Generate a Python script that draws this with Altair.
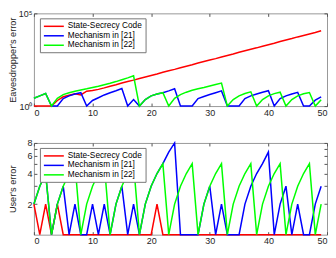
import altair as alt
import pandas as pd

x_steps = list(range(50))
series_names = ["State-Secrecy Code", "Mechanism in [21]", "Mechanism in [22]"]
series_colors = ["#ff0000", "#0000ff", "#00ff00"]

# Eavesdropper's error (top panel, log scale)
eve_red = [1, 1, 1, 1, 2.0, 3.16, 3.8, 4.57, 3.98, 6.31, 6.92, 7.94, 9.55, 11.7,
           14.1, 17.4, 20.9, 25.1, 30.9, 37.2, 44.7, 53.7, 66.1, 79.4, 95.5, 117,
           141, 170, 209, 251, 302, 363, 447, 537, 646, 794, 955, 1148, 1380, 1698,
           2042, 2455, 3020, 3631, 4365, 5370, 6457, 7762, 9333, 11482]
eve_blue = [2.63, 3.55, 4.79, 1, 1, 2.51, 3.55, 4.47, 5.25, 1, 2.0, 2.82, 3.98, 5.25,
            6.76, 8.91, 1, 2.24, 1, 2.24, 3.55, 4.47, 5.25, 6.61, 8.51, 1, 1, 1,
            2.51, 3.31, 4.17, 5.25, 6.61, 1, 1, 1, 2.51, 3.55, 4.47, 5.62, 6.76, 1,
            2.51, 3.55, 4.47, 5.5, 1, 1, 2.09, 3.16]
eve_green = [2.63, 3.55, 4.79, 1, 2.63, 4.17, 5.25, 6.31, 7.41, 8.51, 10, 11.7, 14.1,
             17.0, 20.9, 26.3, 33.1, 42.7, 1, 2.24, 3.55, 4.47, 5.25, 1, 2.63, 4.17,
             5.62, 7.08, 8.51, 10, 12.0, 14.5, 17.4, 1, 2.24, 3.55, 4.79, 5.89, 1,
             2.24, 3.55, 4.68, 5.62, 1, 2.24, 3.55, 4.57, 5.37, 1, 2.19]

# User's error (bottom panel)
user_red = [2, 1, 2, 1, 2, 1, 1, 1, 1, 1, 1, 1, 1, 1, 1, 1, 1, 1, 1, 1, 1, 2, 1, 1, 1,
            1, 1, 1, 1, 1, 1, 1, 1, 1, 1, 1, 1, 1, 1, 1, 1, 1, 1, 1, 1, 1, 1, 1, 1, 1]
user_blue = [2, 3, 4, 1, 2, 3, 1, 2, 1, 1, 2, 1, 2, 1, 2, 3, 1, 2, 1, 2, 3, 4, 5, 6.5,
             8, 1, 1, 1, 1, 2, 3, 1, 2, 1, 1, 1, 2, 3, 4, 5, 6.5, 1, 2, 3, 1, 2, 1, 1,
             2, 3]
user_green = [2, 3, 4, 1, 2, 3, 4, 5, 1, 2, 3, 4, 5, 1, 2, 3, 4, 5, 1, 2, 3, 4, 5, 1,
              2, 3, 4, 5, 1, 2, 3, 4, 5, 1, 2, 3, 4, 5, 1, 2, 3, 4, 5, 1, 2, 3, 4, 5,
              1, 2]

x_ticks = [0, 10, 20, 30, 40, 50]
eve_ticks = [1, 100000]
user_ticks = [2, 3, 4, 5, 6, 7, 8]

FONT = "Liberation Sans"
TXT = "#262626"
W = 294


def long_df(red, blue, green):
    rows = []
    for name, vals in zip(series_names, [red, blue, green]):
        for xv, yv in zip(x_steps, vals):
            rows.append({"step": xv, "value": yv, "series": name})
    return pd.DataFrame(rows)


def panel(df, ytitle, yscale, ytick_vals, label_expr, height):
    xscale = alt.Scale(domain=[0, 50], nice=False, zero=False)
    color = alt.Color(
        "series:N",
        scale=alt.Scale(domain=series_names, range=series_colors),
        legend=alt.Legend(
            orient="none", legendX=6, legendY=5, direction="vertical", title=None,
            symbolType="M-1,0H4", symbolSize=64, symbolStrokeWidth=1.5,
            labelFontSize=8.3, labelFont=FONT, labelColor="black", labelOffset=15,
            padding=3, rowPadding=0.5, fillColor="white", strokeColor="#777777",
            labelLimit=200,
        ),
        sort=series_names,
    )
    xaxis = alt.Axis(values=x_ticks, tickSize=3, offset=-3, labelPadding=2,
                     domain=False, grid=False, title=None, labelFontSize=9,
                     labelFont=FONT, labelColor=TXT, tickColor="#555555")
    yaxis = alt.Axis(values=ytick_vals, labelExpr=label_expr, tickSize=3, offset=-3,
                     labelPadding=2, domain=False, grid=False, title=ytitle,
                     titleFontSize=9.2, titleFont=FONT, titleFontWeight="normal",
                     titleColor=TXT, titlePadding=2, labelFontSize=9, labelFont=FONT,
                     labelColor=TXT, tickColor="#555555", minExtent=17, maxExtent=17)
    layers = []
    for i, name in enumerate(series_names):
        layers.append(
            alt.Chart(df).transform_filter(alt.datum.series == name)
            .mark_line(strokeWidth=1.5, clip=False)
            .encode(
                x=alt.X("step:Q", scale=xscale, axis=xaxis if i == 0 else None),
                y=alt.Y("value:Q", scale=yscale, axis=yaxis if i == 0 else None),
                color=color,
            )
        )
    # invisible layer carrying the top and right tick marks
    mirror = alt.Chart(df).mark_line(opacity=0).encode(
        x=alt.X("step:Q", scale=xscale,
                axis=alt.Axis(orient="top", values=x_ticks, tickSize=3, offset=-3,
                              labels=False, domain=False, grid=False, title=None,
                              tickColor="#555555")),
        y=alt.Y("value:Q", scale=yscale,
                axis=alt.Axis(orient="right", values=ytick_vals, tickSize=3, offset=-3,
                              labels=False, domain=False, grid=False, title=None,
                              tickColor="#555555")),
        detail="series:N",
    )
    return (
        alt.layer(*layers, mirror)
        .resolve_axis(x="independent", y="independent")
        .properties(width=W, height=height)
    )


top = panel(
    long_df(eve_red, eve_blue, eve_green),
    "Eavesdropper's error",
    alt.Scale(type="log", domain=[1, 100000], nice=False),
    eve_ticks,
    "datum.value == 1 ? '10⁰' : '10⁵'",
    93,
)
bottom = panel(
    long_df(user_red, user_blue, user_green),
    "User's error",
    alt.Scale(type="log", base=2, domain=[1, 8], nice=False),
    user_ticks,
    "(datum.value % 2 == 0) ? datum.value : ''",
    92,
)

chart = (
    alt.vconcat(top, bottom, spacing=20)
    .resolve_scale(color="independent")
    .resolve_legend(color="independent")
    .configure(background="white", padding=0)
    .configure_view(stroke="#999999", strokeWidth=1)
)

chart.save("out.html", embed_options={"renderer": "svg", "actions": False})
